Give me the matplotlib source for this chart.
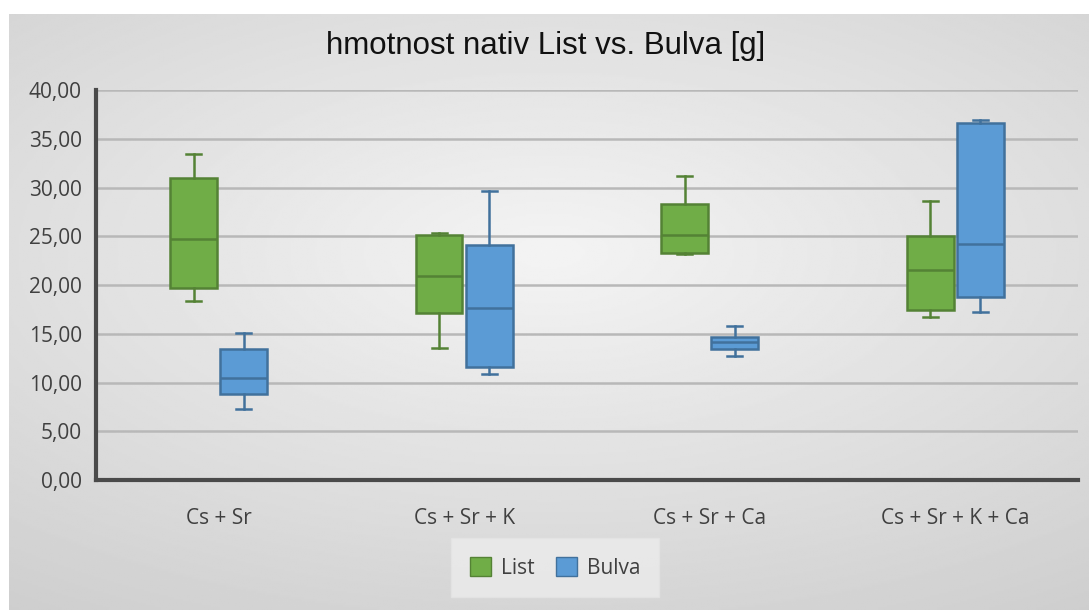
import numpy as np
import matplotlib
matplotlib.use("Agg")
import matplotlib.pyplot as plt
from matplotlib.patches import Patch
from matplotlib.ticker import FuncFormatter

plt.rcParams['font.family'] = ['Open Sans', 'DejaVu Sans']

# data
categories = ["Cs + Sr", "Cs + Sr + K", "Cs + Sr + Ca", "Cs + Sr + K + Ca"]

list_whislo = [18.4, 13.6, 23.2, 16.7]
list_q1 = [19.7, 17.1, 23.3, 17.5]
list_med = [24.7, 20.9, 25.2, 21.6]
list_q3 = [31.0, 25.2, 28.3, 25.0]
list_whishi = [33.5, 25.4, 31.2, 28.6]

bulva_whislo = [7.3, 10.9, 12.7, 17.2]
bulva_q1 = [8.8, 11.6, 13.5, 18.8]
bulva_med = [10.5, 17.7, 14.2, 24.2]
bulva_q3 = [13.4, 24.1, 14.7, 36.6]
bulva_whishi = [15.1, 29.7, 15.8, 37.0]

series_names = ["List", "Bulva"]

green = "#70AD47"
green_edge = "#548235"
blue = "#5B9BD5"
blue_edge = "#41719C"


def make_stats(lo, q1, med, q3, hi):
    return [dict(whislo=a, q1=b, med=c, q3=d, whishi=e, fliers=[])
            for a, b, c, d, e in zip(lo, q1, med, q3, hi)]


fig = plt.figure(figsize=(10.89, 6.10), dpi=100)
fig.patch.set_facecolor("white")

# grey radial background like the office chart area (white strip top/left)
bg = fig.add_axes([9 / 1089, 0, 1 - 9 / 1089, 1 - 14 / 610], zorder=-10)
yy, xx = np.mgrid[-1:1:300j, -1:1:500j]
r = np.sqrt((xx * 0.85) ** 2 + ((yy + 0.2) * 1.0) ** 2)
bg.imshow(0.955 - 0.15 * np.clip(r, 0, 1.5) / 1.5, cmap="gray", vmin=0, vmax=1,
          aspect="auto", extent=[0, 1, 0, 1])
bg.axis("off")

ax = fig.add_axes([0.088, 0.213, 0.902, 0.639])
ax.patch.set_alpha(0)

x = np.arange(len(categories))
off = 0.102
bw = 0.19

list_stats = make_stats(list_whislo, list_q1, list_med, list_q3, list_whishi)
bulva_stats = make_stats(bulva_whislo, bulva_q1, bulva_med, bulva_q3, bulva_whishi)

for stats, pos, fc, ec in [(list_stats, x - off, green, green_edge),
                           (bulva_stats, x + off, blue, blue_edge)]:
    ax.bxp(stats, positions=pos, widths=bw, patch_artist=True, showfliers=False,
           capwidths=0.06,
           boxprops=dict(facecolor=fc, edgecolor=ec, linewidth=1.8),
           medianprops=dict(color=ec, linewidth=1.8),
           whiskerprops=dict(color=ec, linewidth=1.8),
           capprops=dict(color=ec, linewidth=1.8),
           zorder=3)

ax.set_xlim(-0.5, len(categories) - 0.5)
ax.set_ylim(0, 40)
ax.set_yticks(np.arange(0, 41, 5))
ax.yaxis.set_major_formatter(FuncFormatter(lambda v, p: f"{v:.2f}".replace(".", ",")))
ax.set_xticks(x)
ax.set_xticklabels(categories)
ax.tick_params(axis="both", length=0, labelsize=15, colors="#404040", pad=10)
ax.tick_params(axis="x", pad=20)
ax.grid(axis="y", color="#b8b8b8", linewidth=1.8, zorder=0)
ax.set_axisbelow(True)

for s in ["top", "right"]:
    ax.spines[s].set_visible(False)
for s in ["left", "bottom"]:
    ax.spines[s].set_color("#4a4a4a")
    ax.spines[s].set_linewidth(3)

fig.text(0.501, 0.925, "hmotnost nativ List vs. Bulva [g]", ha="center", va="center",
         fontsize=22.5, color="#111111", family=["Liberation Sans", "DejaVu Sans"])

handles = [Patch(facecolor=green, edgecolor=green_edge, label=series_names[0]),
           Patch(facecolor=blue, edgecolor=blue_edge, label=series_names[1])]
leg = fig.legend(handles=handles, loc="center", bbox_to_anchor=(0.51, 0.069), ncol=2,
                 fontsize=15, frameon=True, fancybox=False, borderpad=0.9,
                 handlelength=1.0, handleheight=1.0, handletextpad=0.5,
                 columnspacing=1.0, borderaxespad=0)
leg.get_frame().set_facecolor("#ececec")
leg.get_frame().set_edgecolor("#e4e4e4")
for t in leg.get_texts():
    t.set_color("#404040")

fig.savefig("out.png", dpi=100)
